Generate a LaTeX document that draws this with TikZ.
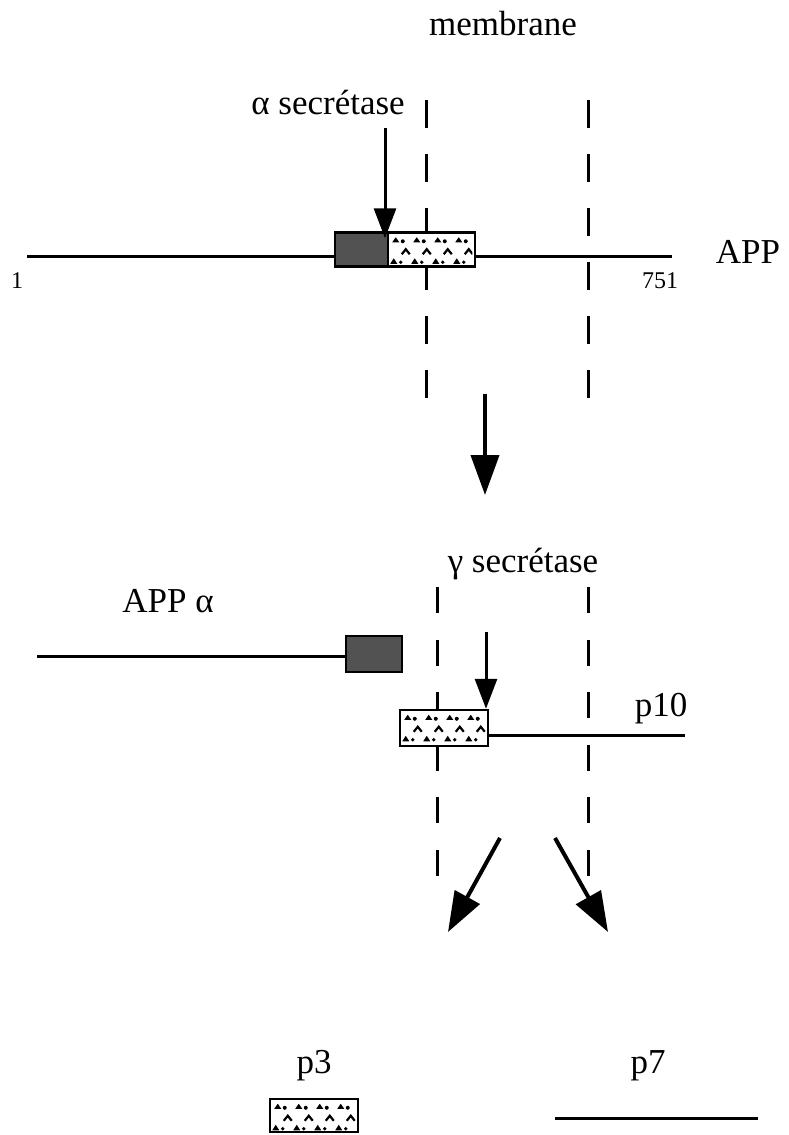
\documentclass[tikz,border=0pt]{standalone}
\usepackage{fontspec}
\setmainfont{Liberation Serif}
\usetikzlibrary{arrows.meta}

\tikzset{
  lbl/.style={font=\fontsize{35}{40}\selectfont, inner sep=0pt, anchor=base},
  num/.style={font=\fontsize{24}{28}\selectfont, inner sep=0pt, anchor=base},
  chainline/.style={line width=3pt},
  memb/.style={line width=3pt, dash pattern=on 28pt off 26pt},
  memblow/.style={line width=3pt, dash pattern=on 26pt off 26.6pt},
  darkbox/.style={draw, line width=2.5pt, fill=black!68, inner sep=0pt},
  dotbox/.style={draw, line width=2.5pt, fill=white, inner sep=0pt},
  bigarrow/.style={line width=4pt, -{Triangle[length=40pt,width=28pt]}},
  cutarrow/.style={line width=3pt, -{Triangle[length=30pt,width=22pt]}},
}

% speckled texture of the dotted segment, laid over a dotbox node
\newcommand{\speckle}[2]{%
  \begin{scope}[shift={(#1.north west)}]
    \clip (1.5,1.5) rectangle (#2-1.5,34);
    \foreach \i in {0,...,4}{
      \fill (9+21*\i,6) -- ++(-3.5,5) -- ++(7,0) -- cycle;
      \fill (16+21*\i,10) circle (2pt);
      \draw[line width=2.2pt] (15+21*\i,23) -- ++(4,-5) -- ++(4,5);
      \fill (7+21*\i,27) -- ++(-3.5,5.5) -- ++(7,0) -- cycle;
      \fill (14+21*\i,31) circle (1.8pt);
    }
  \end{scope}}

\begin{document}
\begin{tikzpicture}[x=1pt,y=-1pt]
\useasboundingbox (0,0) rectangle (789,1135);

% ---------- full-length APP ----------
\node[lbl] (membrane) at (503,35) {membrane};
\node[lbl] (asec) at (328,114) {α secrétase};

% membrane boundaries
\coordinate (mUL1) at (426,100);  \coordinate (mUL2) at (426,398);
\coordinate (mUR1) at (588,100);  \coordinate (mUR2) at (588,398);
\draw[memb] (mUL1) -- (mUL2);
\draw[memb] (mUR1) -- (mUR2);

% protein chain
\coordinate (appL) at (27,256);
\coordinate (appR) at (672,256);
\draw[chainline] (appL) -- (appR);
\node[darkbox, minimum width=53pt, minimum height=34pt] (darkA) at (361.5,249.5) {};
\node[dotbox,  minimum width=87pt, minimum height=34pt] (dotA)  at (431.5,249.5) {};
\speckle{dotA}{87}

\node[num] (n1)   at (17,288)  {1};
\node[num] (n751) at (660,288) {751};
\node[lbl] (app)  at (748,263) {APP};

% alpha-secretase cut
\coordinate (aTop) at (385,128);
\draw[cutarrow] (aTop) -- ([yshift=-7pt]aTop |- dotA.north);

% processing step
\coordinate (s1) at (485,394);
\coordinate (s2) at (485,495);
\draw[bigarrow] (s1) -- (s2);

% ---------- after alpha cleavage ----------
\node[lbl] (gsec) at (523,572) {γ secrétase};
\node[lbl] (appa) at (168,612) {APP α};

\coordinate (mLL1) at (437,587);  \coordinate (mLL2) at (437,877);
\coordinate (mLR1) at (588,587);  \coordinate (mLR2) at (588,877);
\draw[memblow] (mLL1) -- (mLL2);
\draw[memblow] (mLR1) -- (mLR2);

\coordinate (appaL) at (37,656);
\node[darkbox, minimum width=56pt, minimum height=36pt] (darkB) at (374,654) {};
\draw[chainline] (appaL) -- (darkB.west |- appaL);

\coordinate (p10L) at (470,735);
\coordinate (p10R) at (685,735);
\draw[chainline] (p10L) -- (p10R);
\node[dotbox, minimum width=88pt, minimum height=36pt] (dotB) at (444,728) {};
\speckle{dotB}{88}
\node[lbl] (p10) at (661,716) {p10};

% gamma-secretase cut
\coordinate (gTop) at (486,632);
\draw[cutarrow] (gTop) -- (gTop |- dotB.north);

% release of the fragments
\coordinate (dL1) at (500,838);  \coordinate (dL2) at (448,932);
\coordinate (dR1) at (555,838);  \coordinate (dR2) at (608,932);
\draw[bigarrow] (dL1) -- (dL2);
\draw[bigarrow] (dR1) -- (dR2);

% ---------- products ----------
\node[lbl] (p3) at (314,1073) {p3};
\node[lbl] (p7) at (648,1073) {p7};
\node[dotbox, minimum width=88pt, minimum height=33pt] (dotC) at (314,1115.5) {};
\speckle{dotC}{88}
\coordinate (p7L) at (555,1118);
\coordinate (p7R) at (758,1118);
\draw[chainline] (p7L) -- (p7R);
\end{tikzpicture}
\end{document}
